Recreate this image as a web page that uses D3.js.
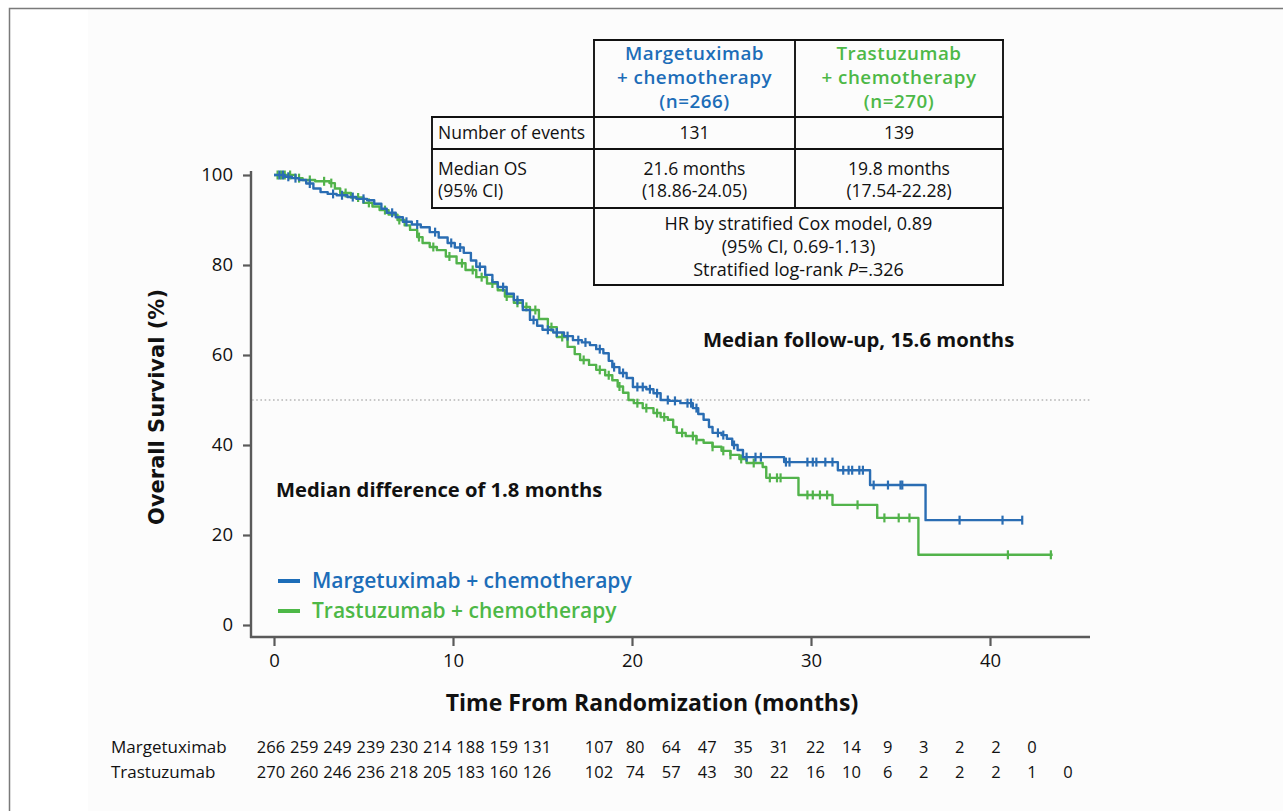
<!DOCTYPE html>
<html>
<head>
<meta charset="utf-8">
<script src="https://cdn.jsdelivr.net/npm/d3@7"></script>
<style>
  body { margin: 0; background: #fff; }
  svg { display: block; }
  text { font-family: "Open Sans", sans-serif; fill: #111; }
</style>
</head>
<body>
<svg id="chart" width="1283" height="811"></svg>
<script>
// ---- Data -------------------------------------------------------------
const monthTicks = [0, 10, 20, 30, 40];
const survivalTicks = [0, 20, 40, 60, 80, 100];

// Kaplan-Meier steps: [month, overall survival %]
const margetuximabSteps = [
  [0,100],[0.6,99.6],[1.0,99.3],[1.4,98.9],[1.8,98.1],[2.2,97.0],[2.6,96.2],[3.0,95.8],
  [3.5,95.5],[4.1,95.1],[4.6,94.7],[5.2,94.4],[5.6,93.6],[6.0,92.5],[6.3,91.6],[6.8,90.6],
  [7.2,89.6],[7.7,89.0],[8.2,88.4],[8.7,87.3],[9.2,86.1],[9.7,84.9],[10.1,83.9],[10.6,82.7],
  [11.0,81.0],[11.3,79.6],[11.8,77.8],[12.2,76.2],[12.5,75.1],[13.0,73.6],[13.4,72.2],[13.9,70.0],
  [14.3,67.8],[14.7,66.5],[15.0,65.6],[15.6,65.0],[16.2,64.2],[16.7,63.3],[17.2,62.8],[17.65,62.2],
  [18.0,61.3],[18.4,60.4],[18.7,58.7],[18.9,57.3],[19.3,56.0],[19.7,54.9],[20.05,52.9],[20.8,52.4],
  [21.2,51.5],[21.6,50.0],[22.1,49.8],[22.7,49.3],[23.4,48.2],[23.7,46.9],[24.0,45.6],[24.3,44.0],
  [24.5,42.7],[25.0,42.2],[25.3,41.4],[25.6,40.0],[25.9,38.9],[26.2,37.3],[28.5,36.2],[31.5,34.4],
  [33.3,31.1],[36.4,23.3]
];
const margetuximabLastFollowUp = 41.8;
const margetuximabCensored = [
  0.3,0.5,0.8,1.2,2.0,3.3,3.8,4.4,5.0,6.6,7.4,8.0,9.0,9.9,10.4,11.5,12.8,13.6,14.5,15.3,15.8,
  16.4,17.0,17.4,18.2,19.0,19.5,20.3,20.6,21.0,21.4,22.0,22.4,23.1,23.3,23.6,24.8,25.1,25.7,
  26.4,26.9,27.2,28.6,28.8,29.8,30.1,30.3,30.8,31.2,31.8,32.1,32.3,32.7,32.9,33.5,34.3,35.0,
  35.1,38.3,40.7,41.8
];

const trastuzumabSteps = [
  [0,100],[0.9,100],[1.2,99.3],[1.6,98.9],[2.3,98.6],[3.1,98.2],[3.4,97.0],[3.7,96.0],
  [4.3,95.0],[5.0,93.8],[5.5,93.0],[5.9,92.2],[6.4,91.2],[6.9,90.0],[7.3,88.8],[7.6,87.8],
  [8.0,86.2],[8.3,84.9],[8.7,84.0],[9.1,83.3],[9.6,81.9],[10.2,80.4],[10.7,78.9],[11.3,77.3],
  [11.9,75.9],[12.5,74.4],[12.9,73.0],[13.4,71.6],[13.9,70.7],[14.3,70.0],[14.8,68.0],[15.3,66.2],
  [15.8,64.0],[16.4,61.8],[16.8,60.2],[17.1,58.9],[17.6,57.8],[18.0,56.7],[18.5,55.5],[18.9,54.4],
  [19.2,53.0],[19.5,51.6],[19.8,50.0],[20.1,49.3],[20.6,48.2],[21.2,47.1],[21.6,46.2],[22.0,45.6],
  [22.3,44.0],[22.5,42.7],[23.0,42.0],[23.6,41.1],[24.0,40.5],[24.5,39.6],[25.0,38.7],[25.5,37.8],
  [26.0,36.9],[26.4,36.0],[27.3,35.1],[27.5,32.7],[29.3,28.9],[31.2,26.7],[33.7,23.8],[36.0,15.6]
];
const trastuzumabLastFollowUp = 43.5;
const trastuzumabCensored = [
  0.2,0.4,0.6,0.9,1.4,2.0,2.8,3.2,4.0,4.7,5.3,6.2,7.0,8.1,8.9,9.8,10.5,11.1,11.6,12.2,13.0,
  13.6,14.1,14.6,15.5,16.1,17.3,18.2,18.7,19.3,20.3,20.8,21.4,21.8,22.8,23.4,23.6,24.5,25.1,
  25.5,26.1,26.8,27.7,28.1,28.3,29.8,30.1,30.5,30.9,32.6,34.1,34.9,35.5,41.0,43.4
];

// Number at risk, every 2 months
const margetuximabAtRisk = [266,259,249,239,230,214,188,159,131,107,80,64,47,35,31,22,14,9,3,2,2,0];
const trastuzumabAtRisk  = [270,260,246,236,218,205,183,160,126,102,74,57,43,30,22,16,10,6,2,2,2,1,0];
const riskRowNames = ["Margetuximab", "Trastuzumab"];

const armNames = ["Margetuximab + chemotherapy", "Trastuzumab + chemotherapy"];
const armHeaders = [["Margetuximab", "+ chemotherapy", "(n=266)"], ["Trastuzumab", "+ chemotherapy", "(n=270)"]];
const eventCounts = ["131", "139"];
const medianOS = [["21.6 months", "(18.86-24.05)"], ["19.8 months", "(17.54-22.28)"]];

// ---- Styles -----------------------------------------------------------
const BLUE = "#2a6db3", BLUE_TEXT = "#1c6db8";
const GREEN = "#52b34b", GREEN_TEXT = "#4db847";

const svg = d3.select("#chart");

// page frame
svg.append("rect").attr("x", 0).attr("y", 0).attr("width", 1283).attr("height", 811).attr("fill", "#fff");
svg.append("rect").attr("x", 88).attr("y", 9).attr("width", 1195).attr("height", 802).attr("fill", "#fcfcfc");
svg.append("path").attr("d", "M9.5,811 V8.5 H1283").attr("fill", "none").attr("stroke", "#7a7a7a").attr("stroke-width", 1.5);

// ---- Scales -----------------------------------------------------------
const x = d3.scaleLinear().domain([0, 40]).range([274, 990]);
const y = d3.scaleLinear().domain([0, 100]).range([625, 175]);

// ---- Axes -------------------------------------------------------------
const axisColor = "#5a5a5a";
const yAxis = svg.append("g").attr("transform", "translate(251,0)")
  .call(d3.axisLeft(y).tickValues(survivalTicks).tickSize(8).tickPadding(10).tickSizeOuter(0));
const xAxis = svg.append("g").attr("transform", "translate(0,637)")
  .call(d3.axisBottom(x).tickValues(monthTicks).tickSize(9).tickPadding(8).tickSizeOuter(0));
[yAxis, xAxis].forEach(g => {
  g.select(".domain").remove();
  g.selectAll(".tick line").attr("stroke", axisColor).attr("stroke-width", 2.2);
  g.selectAll(".tick text").attr("font-size", 18.5).attr("fill", "#111")
    .attr("font-family", "'Open Sans', sans-serif");
});
svg.append("line").attr("x1", 251).attr("x2", 251).attr("y1", y(100) - 4).attr("y2", 638)
  .attr("stroke", axisColor).attr("stroke-width", 2.4);
svg.append("line").attr("x1", 250).attr("x2", 1090).attr("y1", 637).attr("y2", 637)
  .attr("stroke", axisColor).attr("stroke-width", 2.4);

// 50% reference line
svg.append("line").attr("x1", 252).attr("x2", 1090).attr("y1", y(50)).attr("y2", y(50))
  .attr("stroke", "#b5b5b5").attr("stroke-width", 1.6).attr("stroke-dasharray", "1.6,2.6");

// axis titles
svg.append("text").attr("transform", "translate(164,407) rotate(-90)")
  .attr("text-anchor", "middle").attr("font-size", 21).attr("font-weight", 700)
  .style("font-family", "'DejaVu Sans', sans-serif").text("Overall Survival (%)");
svg.append("text").attr("x", 652).attr("y", 711).attr("text-anchor", "middle")
  .attr("font-size", 23).attr("font-weight", 700).text("Time From Randomization (months)");

// ---- Curves -----------------------------------------------------------
function survivalAt(steps, t) {
  let s = steps[0][1];
  for (const [ti, si] of steps) { if (ti <= t) s = si; else break; }
  return s;
}
const stepLine = d3.line().x(d => x(d[0])).y(d => y(d[1])).curve(d3.curveStepAfter);

const arms = [
  { steps: margetuximabSteps, end: margetuximabLastFollowUp, censored: margetuximabCensored, color: BLUE },
  { steps: trastuzumabSteps, end: trastuzumabLastFollowUp, censored: trastuzumabCensored, color: GREEN }
];
// draw the green arm first so the blue arm sits on top where they overlap
[arms[1], arms[0]].forEach(a => {
  const pts = a.steps.concat([[a.end, a.steps[a.steps.length - 1][1]]]);
  const g = svg.append("g");
  g.append("path").attr("d", stepLine(pts)).attr("fill", "none")
    .attr("stroke", a.color).attr("stroke-width", 2.4).attr("stroke-linejoin", "round");
  g.selectAll("line.censor").data(a.censored).join("line").attr("class", "censor")
    .attr("x1", d => x(d)).attr("x2", d => x(d))
    .attr("y1", d => y(survivalAt(a.steps, d)) - 4.5)
    .attr("y2", d => y(survivalAt(a.steps, d)) + 4.5)
    .attr("stroke", a.color).attr("stroke-width", 2.2);
});

// ---- Annotations ------------------------------------------------------
svg.append("text").attr("x", 703).attr("y", 347).attr("font-size", 20.3).attr("font-weight", 700)
  .text("Median follow-up, 15.6 months");
svg.append("text").attr("x", 276).attr("y", 497).attr("font-size", 20.2).attr("font-weight", 700)
  .text("Median difference of 1.8 months");

// legend
const legend = svg.append("g");
armNames.forEach((name, i) => {
  const ly = 581 + i * 30;
  const c = i === 0 ? BLUE_TEXT : GREEN_TEXT;
  legend.append("line").attr("x1", 278).attr("x2", 300).attr("y1", ly).attr("y2", ly)
    .attr("stroke", c).attr("stroke-width", 4);
  legend.append("text").attr("x", 312).attr("y", ly + 7).attr("font-size", 21).attr("font-weight", 600)
    .style("fill", c).text(name);
});

// ---- Summary table ----------------------------------------------------
const tbl = svg.append("g");
const colX = [432, 594, 795, 1003];
const rowY = [40, 117, 149, 208, 285];
const colMid = [(colX[1] + colX[2]) / 2, (colX[2] + colX[3]) / 2];
const tableLine = (x1, y1, x2, y2) => tbl.append("line")
  .attr("x1", x1).attr("y1", y1).attr("x2", x2).attr("y2", y2)
  .attr("stroke", "#111").attr("stroke-width", 1.9).attr("stroke-linecap", "square");

tableLine(colX[1], rowY[0], colX[3], rowY[0]);
tableLine(colX[0], rowY[1], colX[3], rowY[1]);
tableLine(colX[0], rowY[2], colX[3], rowY[2]);
tableLine(colX[0], rowY[3], colX[3], rowY[3]);
tableLine(colX[1], rowY[4], colX[3], rowY[4]);
tableLine(colX[0], rowY[1], colX[0], rowY[3]);
tableLine(colX[1], rowY[0], colX[1], rowY[4]);
tableLine(colX[2], rowY[0], colX[2], rowY[3]);
tableLine(colX[3], rowY[0], colX[3], rowY[4]);

// multi-line cell text as one text element with stacked tspans
function cellText(xPos, yPos, lines, lineGap, anchor) {
  const t = tbl.append("text").attr("x", xPos).attr("y", yPos).attr("text-anchor", anchor);
  lines.forEach((ln, j) => {
    t.append("tspan").attr("x", xPos).attr("dy", j === 0 ? 0 : lineGap).text(ln);
  });
  return t;
}

armHeaders.forEach((lines, i) => {
  cellText(colMid[i], 59.5, lines, 24.2, "middle")
    .attr("font-size", 18.8).attr("font-weight", 600).attr("letter-spacing", 0.5)
    .style("fill", i === 0 ? BLUE_TEXT : GREEN_TEXT);
  cellText(colMid[i], 139, [eventCounts[i]], 0, "middle").attr("font-size", 17.5);
  cellText(colMid[i], 175, medianOS[i], 21.5, "middle").attr("font-size", 17.5);
});
cellText(438, 139, ["Number of events"], 0, "start").attr("font-size", 17.5);
cellText(438, 175, ["Median OS", "(95% CI)"], 21.5, "start").attr("font-size", 17.5);

const hrMid = (colX[1] + colX[3]) / 2;
const hr = cellText(hrMid, 230, ["HR by stratified Cox model, 0.89", "(95% CI, 0.69-1.13)"], 23, "middle")
  .attr("font-size", 18);
const pLine = hr.append("tspan").attr("x", hrMid).attr("dy", 23);
pLine.append("tspan").text("Stratified log-rank ");
pLine.append("tspan").attr("font-style", "italic").text("P");
pLine.append("tspan").text("=.326");

// ---- Number at risk ---------------------------------------------------
// the printed columns are packed tighter through the three-digit counts
const riskX = d3.scaleLinear().domain([0, 8, 9, 22]).range([271, 537, 599, 1068]);
const riskRows = [margetuximabAtRisk, trastuzumabAtRisk];
riskRows.forEach((row, r) => {
  const by = 753 + r * 25;
  svg.append("text").attr("x", 111).attr("y", by).attr("font-size", 17).text(riskRowNames[r]);
  svg.append("g").selectAll("text").data(row).join("text")
    .attr("x", (d, i) => riskX(i)).attr("y", by).attr("text-anchor", "middle")
    .attr("font-size", 16.5).text(d => d);
});
</script>
</body>
</html>
